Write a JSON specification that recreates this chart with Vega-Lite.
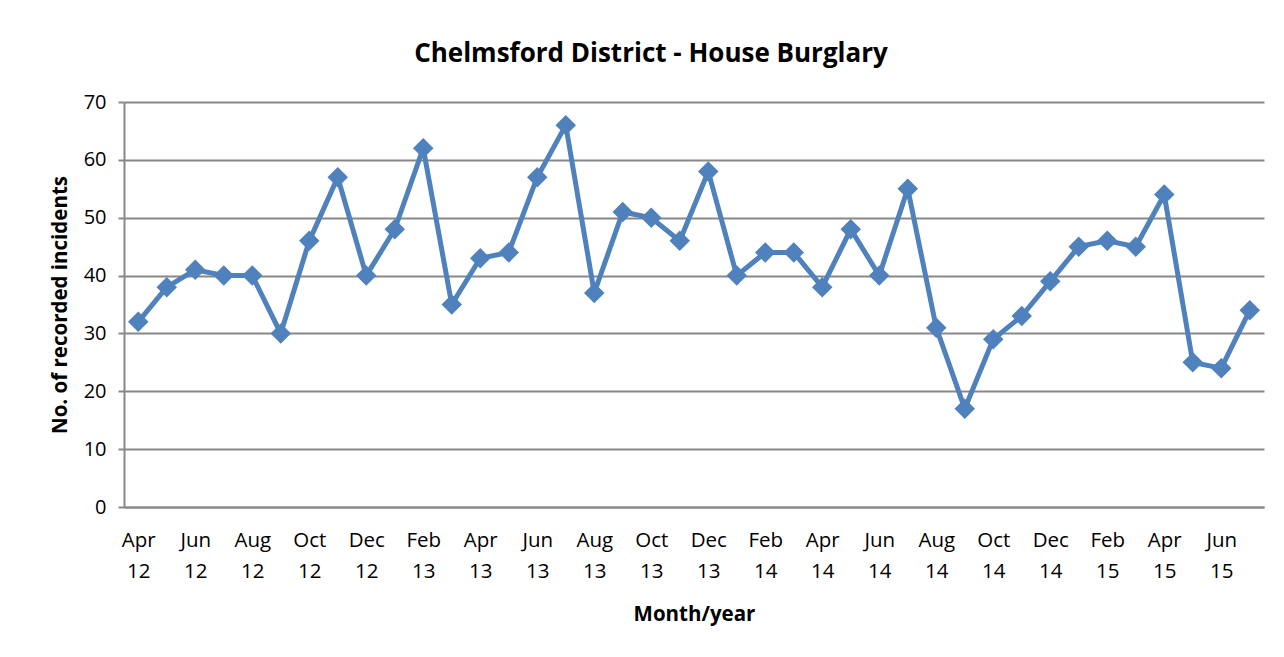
{
  "$schema": "https://vega.github.io/schema/vega-lite/v6.json",
  "width": 1140,
  "height": 405,
  "autosize": "none",
  "padding": {"left": 124, "top": 102, "right": 20, "bottom": 150},
  "background": "white",
  "title": {
    "text": "Chelmsford District - House Burglary",
    "font": "Open Sans",
    "fontSize": 26,
    "fontWeight": "bold",
    "color": "black",
    "anchor": "middle",
    "dx": -43,
    "offset": 25
  },
  "data": {
    "values": [
      {"m": "Apr 12", "v": 32}, {"m": "May 12", "v": 38}, {"m": "Jun 12", "v": 41}, {"m": "Jul 12", "v": 40},
      {"m": "Aug 12", "v": 40}, {"m": "Sep 12", "v": 30}, {"m": "Oct 12", "v": 46}, {"m": "Nov 12", "v": 57},
      {"m": "Dec 12", "v": 40}, {"m": "Jan 13", "v": 48}, {"m": "Feb 13", "v": 62}, {"m": "Mar 13", "v": 35},
      {"m": "Apr 13", "v": 43}, {"m": "May 13", "v": 44}, {"m": "Jun 13", "v": 57}, {"m": "Jul 13", "v": 66},
      {"m": "Aug 13", "v": 37}, {"m": "Sep 13", "v": 51}, {"m": "Oct 13", "v": 50}, {"m": "Nov 13", "v": 46},
      {"m": "Dec 13", "v": 58}, {"m": "Jan 14", "v": 40}, {"m": "Feb 14", "v": 44}, {"m": "Mar 14", "v": 44},
      {"m": "Apr 14", "v": 38}, {"m": "May 14", "v": 48}, {"m": "Jun 14", "v": 40}, {"m": "Jul 14", "v": 55},
      {"m": "Aug 14", "v": 31}, {"m": "Sep 14", "v": 17}, {"m": "Oct 14", "v": 29}, {"m": "Nov 14", "v": 33},
      {"m": "Dec 14", "v": 39}, {"m": "Jan 15", "v": 45}, {"m": "Feb 15", "v": 46}, {"m": "Mar 15", "v": 45},
      {"m": "Apr 15", "v": 54}, {"m": "May 15", "v": 25}, {"m": "Jun 15", "v": 24}, {"m": "Jul 15", "v": 34}
    ]
  },
  "encoding": {
    "x": {
      "field": "m",
      "type": "ordinal",
      "sort": null,
      "scale": {"type": "point", "padding": 0.5},
      "axis": {
        "title": "Month/year",
        "titleFont": "Open Sans",
        "titleFontSize": 20.5,
        "titleFontWeight": "bold",
        "titleColor": "black",
        "titlePadding": 23,
        "labelFont": "Open Sans",
        "labelFontSize": 20.5,
        "labelColor": "black",
        "labelAngle": 0,
        "labelPadding": 23,
        "labelLineHeight": 31,
        "labelExpr": "split(datum.label, ' ')",
        "values": ["Apr 12", "Jun 12", "Aug 12", "Oct 12", "Dec 12", "Feb 13", "Apr 13", "Jun 13", "Aug 13", "Oct 13", "Dec 13", "Feb 14", "Apr 14", "Jun 14", "Aug 14", "Oct 14", "Dec 14", "Feb 15", "Apr 15", "Jun 15"],
        "ticks": false,
        "domainColor": "#888888",
        "domainWidth": 2,
        "grid": false
      }
    },
    "y": {
      "field": "v",
      "type": "quantitative",
      "scale": {"domain": [0, 70]},
      "axis": {
        "title": "No. of recorded incidents",
        "titleFont": "Open Sans",
        "titleFontSize": 20.5,
        "titleFontWeight": "bold",
        "titleColor": "black",
        "titlePadding": 13,
        "labelFont": "Open Sans",
        "labelFontSize": 20,
        "labelColor": "black",
        "labelPadding": 12,
        "values": [0, 10, 20, 30, 40, 50, 60, 70],
        "tickSize": 6,
        "tickColor": "#888888",
        "tickWidth": 2,
        "domainColor": "#888888",
        "domainWidth": 2,
        "gridColor": "#888888",
        "gridWidth": 2
      }
    }
  },
  "layer": [
    {"mark": {"type": "line", "color": "#4F81BD", "strokeWidth": 5}},
    {"mark": {"type": "point", "shape": "diamond", "filled": true, "color": "#4F81BD", "size": 420, "opacity": 1}}
  ],
  "config": {"view": {"stroke": null}}
}
